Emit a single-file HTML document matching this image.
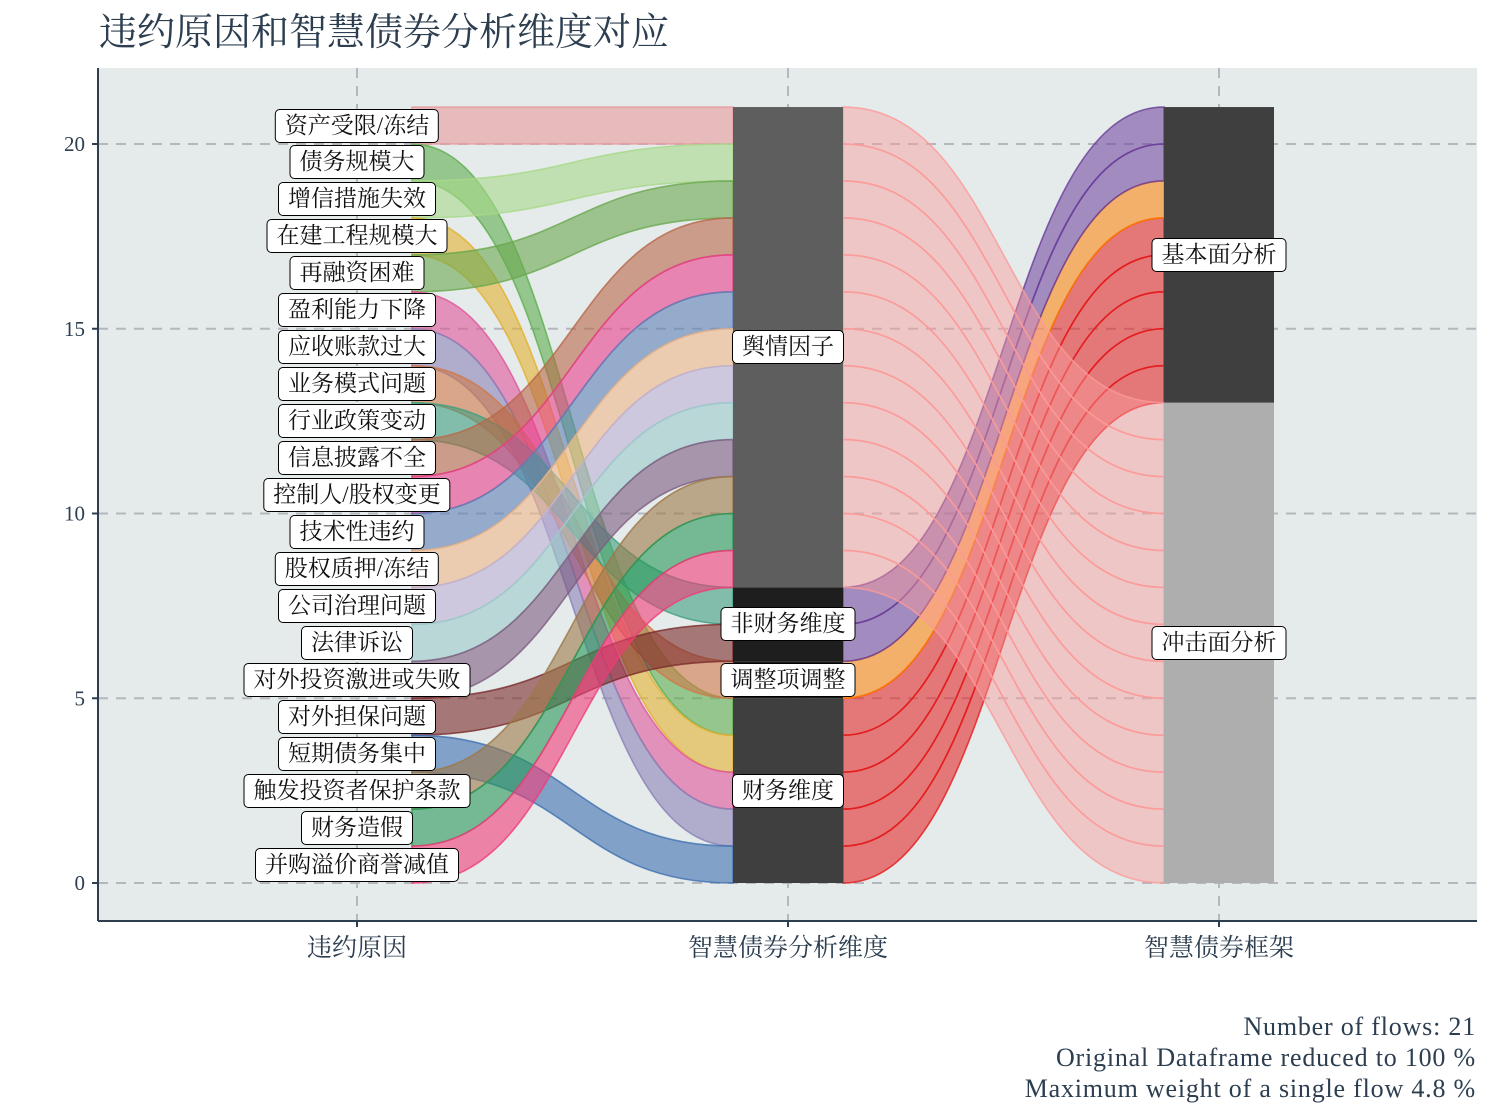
<!DOCTYPE html>
<html><head><meta charset="utf-8">
<style>
body{margin:0;background:#fff;}
#wrap{position:relative;width:1494px;height:1120px;overflow:hidden;font-family:"Liberation Serif","Noto Serif CJK SC",serif;}
.lbl{position:absolute;transform:translate(-50%,-50%);background:#fff;border:1.3px solid #000;border-radius:5px;padding:2px 9px 3px 9px;font-size:23px;line-height:27px;white-space:nowrap;color:#111;font-family:"Liberation Serif","Noto Serif CJK SC",serif;}
</style></head><body>
<div id="wrap">
<svg id="svg" width="1494" height="1120" style="position:absolute;left:0;top:0">
<text x="99" y="45" font-size="38" fill="#2c3e50" font-family="Noto Serif CJK SC, serif">违约原因和智慧债券分析维度对应</text>
<rect x="98" y="68" width="1379" height="853" fill="#e5ebeb"/>
<g id="grid"></g>
<g id="flows"></g>
<g id="strata"></g>
<line x1="98" y1="68" x2="98" y2="921" stroke="#2c3e50" stroke-width="2"/>
<line x1="98" y1="921" x2="1477" y2="921" stroke="#2c3e50" stroke-width="2"/>
<g id="ticks"></g>
<g font-size="26" fill="#2c3e50" text-anchor="end" font-family="Liberation Serif, serif" letter-spacing="0.8">
<text x="1476" y="1035">Number of flows: 21</text>
<text x="1476" y="1066">Original Dataframe reduced to 100 %</text>
<text x="1476" y="1097">Maximum weight of a single flow 4.8 %</text>
</g>
</svg>
<div id="labels"></div>
</div>
<script>
// data
const reasons = ["资产受限/冻结","债务规模大","增信措施失效","在建工程规模大","再融资困难","盈利能力下降","应收账款过大","业务模式问题","行业政策变动","信息披露不全","控制人/股权变更","技术性违约","股权质押/冻结","公司治理问题","法律诉讼","对外投资激进或失败","对外担保问题","短期债务集中","触发投资者保护条款","财务造假","并购溢价商誉减值"];
const reasonColors = ["#e89a9c","#5fae4f","#a8d88a","#e2b030","#6aa84f","#e0559a","#8a82b8","#d07848","#3f9f80","#b86848","#e8408a","#5d80b8","#f0b888","#bcb0d4","#9ccaca","#7c5c80","#7a2a2a","#3f70b0","#9c7848","#289858","#f03c78"];
const reasonMidPos = [20,4,19,3,18,2,1,5,7,17,16,15,14,13,12,11,6,0,10,9,8];
const dimensions = ["财务维度","调整项调整","非财务维度","舆情因子"];
const dimLow = [0,5,6,8];
const dimHigh = [5,6,8,21];
const dimColors = ["#3f3f3f","#1e1e1e","#1e1e1e","#5e5e5e"];
const dimFlowFill = ["#e31a1c","#ff7f00","#6a3d9a","#fb9a99"];
const frameworks = ["冲击面分析","基本面分析"];
const frameLow = [0,13];
const frameHigh = [13,21];
const frameColors = ["#aeaeae","#3f3f3f"];
const yTicks = [0,5,10,15,20];
const axisNames = ["违约原因","智慧债券分析维度","智慧债券框架"];

const NS="http://www.w3.org/2000/svg";
const y = v => 883 - v*36.95;
const axX = [357,788,1219];
const HW = 55;
function mk(tag, attrs, parent){const e=document.createElementNS(NS,tag);for(const k in attrs)e.setAttribute(k,attrs[k]);parent.appendChild(e);return e;}
const grid=document.getElementById('grid'), flows=document.getElementById('flows'), strata=document.getElementById('strata'), ticks=document.getElementById('ticks');
yTicks.forEach(t=>{
  const l=mk('line',{x1:98,x2:1477,y1:y(t),y2:y(t),stroke:'#b4b8bc','stroke-width':2,'stroke-dasharray':'10,8'},grid);
  
  
  const tk=mk('line',{x1:92,x2:98,y1:y(t),y2:y(t),stroke:'#2c3e50','stroke-width':2},ticks);
  
  
  const tx=mk('text',{x:85,y:y(t)+7,'text-anchor':'end','font-size':21,fill:'#2c3e50','font-family':'Liberation Serif, serif'},ticks);
  tx.textContent=t;
  
  
});
axX.forEach((x,i)=>{
  const l=mk('line',{x1:x,x2:x,y1:68,y2:921,stroke:'#b4b8bc','stroke-width':2,'stroke-dasharray':'10,8'},grid);
  
  
  const tk=mk('line',{x1:x,x2:x,y1:921,y2:927,stroke:'#2c3e50','stroke-width':2},ticks);
  
  
  const tx=mk('text',{x:x,y:956,'text-anchor':'middle','font-size':25,fill:'#2c3e50','font-family':'Liberation Serif, Noto Serif CJK SC, serif'},ticks);
  tx.textContent=axisNames[i];
  
  
});
function band(x0,a0,x1,a1,fill,stroke,op){
  const xm=(x0+x1)/2;
  const t0=y(a0+1),b0=y(a0),t1=y(a1+1),b1=y(a1);
  const d=`M${x0},${t0} C${xm},${t0} ${xm},${t1} ${x1},${t1} L${x1},${b1} C${xm},${b1} ${xm},${b0} ${x0},${b0} Z`;
  return mk('path',{d:d,fill:fill,'fill-opacity':op,stroke:stroke,'stroke-opacity':0.8,'stroke-width':1.6},flows);
}
// flows axis1 -> axis2
reasons.forEach((r,i)=>{
  const lo=20-i;
  const p=band(axX[0]+HW,lo,axX[1]-HW,reasonMidPos[i],reasonColors[i],reasonColors[i],0.6);
  
  
});
// flows axis2 -> axis3
let nextTop=13, nextBot=0;
for(let v=0; v<21; v++){
  let d=0; for(let k=0;k<dimLow.length;k++){ if(v>=dimLow[k]&&v<dimHigh[k]) d=k; }
  let target = (d<3) ? nextTop++ : nextBot++;
  const p=band(axX[1]+HW,v,axX[2]-HW,target,dimFlowFill[d],dimFlowFill[d],d===3?0.45:0.55);
  
  
}
const labels=document.getElementById('labels');
function lab(text,x,yy,name){const d=document.createElement('div');d.className='lbl';d.style.left=x+'px';d.style.top=yy+'px';d.textContent=text;labels.appendChild(d);}
reasons.forEach((r,i)=>lab(r,axX[0],y(20-i+0.5),'reason-label'));
dimensions.forEach((n,k)=>{
  const r=mk('rect',{x:axX[1]-HW,y:y(dimHigh[k]),width:2*HW,height:y(dimLow[k])-y(dimHigh[k]),fill:dimColors[k]},strata);
  
  
  lab(n,axX[1],y((dimLow[k]+dimHigh[k])/2),'dimension-label');
});
frameworks.forEach((n,k)=>{
  const r=mk('rect',{x:axX[2]-HW,y:y(frameHigh[k]),width:2*HW,height:y(frameLow[k])-y(frameHigh[k]),fill:frameColors[k]},strata);
  
  
  lab(n,axX[2],y((frameLow[k]+frameHigh[k])/2),'framework-label');
});
</script>
</body></html>
